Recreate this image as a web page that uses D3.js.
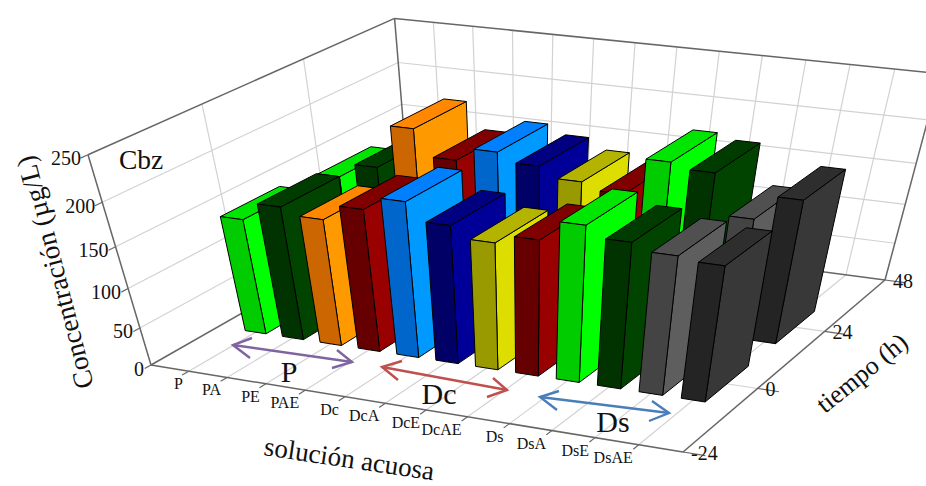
<!DOCTYPE html>
<html><head><meta charset="utf-8">
<script src="https://cdn.jsdelivr.net/npm/d3@7"></script>
<style>html,body{margin:0;padding:0;background:#fff;overflow:hidden}svg{display:block}text{font-family:"Liberation Serif",serif;fill:#111}</style>
</head><body><svg id="c" width="926" height="486"></svg>
<script>
// ---------- data ----------
const categories = ["P","PA","PE","PAE","Dc","DcA","DcE","DcAE","Ds","DsA","DsE","DsAE"];
const timeTicks = [-24,0,24,48];
const valueTicks = [0,50,100,150,200,250];
const times = [24,0];
const values24 = [138,155,205,175,190,180,168,160,202,196,150,178];
const values0  = [146,167,159,177,192,172,159,169,192,180,172,168];
const frontColors = ["#00cc00","#003300","#cc6600","#660000","#0066cc","#000066","#999900","#660000","#00cc00","#003300","#444444","#242424"];
const sideColors  = ["#00ff00","#004400","#ff9900","#990000","#0099ff","#000099","#dddd00","#990000","#00ff00","#004400","#5e5e5e","#383838"];
const topColors   = ["#00e600","#003c00","#ff8800","#800000","#0080ff","#000080","#b3b300","#800000","#00e600","#003c00","#505050","#2e2e2e"];
const groups = [
 {label:"P", color:"#8064a2"},
 {label:"Dc",color:"#c0504d"},
 {label:"Ds",color:"#4a7ebb"}];

// ---------- projection ----------
const A=[151,365],B=[683,452],C=[885,280],D=[411,217],G=[88,154],VP=[527,1620];
const uS=d3.scaleLinear().domain([0,13]).range([0,1]);
const vS=d3.scaleLinear().domain([-24,48]).range([0,1]);
const wS=d3.scaleLinear().domain([0,250]).range([0,1]);
const dx1=B[0]-C[0],dx2=D[0]-C[0],sx=A[0]-B[0]+C[0]-D[0];
const dy1=B[1]-C[1],dy2=D[1]-C[1],sy=A[1]-B[1]+C[1]-D[1];
const den=dx1*dy2-dx2*dy1;
const g=(sx*dy2-dx2*sy)/den,h=(dx1*sy-sx*dy1)/den;
const a=B[0]-A[0]+g*B[0],b=D[0]-A[0]+h*D[0],c0=A[0];
const d=B[1]-A[1]+g*B[1],e=D[1]-A[1]+h*D[1],f0=A[1];
const k=(G[0]-A[0])/(VP[0]-G[0]);
function proj(cat,t,val){
  const u=uS(cat),v=vS(t),w=wS(val);
  const W=g*u+h*v+1+w*k;
  return [(a*u+b*v+c0+w*k*VP[0])/W,(d*u+e*v+f0+w*k*VP[1])/W];
}
const svg=d3.select("#c");
const line=d3.line();
const GRID="#d2d2d2",AXIS="#666666";
const seg=(p,q,col,sw)=>svg.append("path").attr("d",line([p,q])).attr("fill","none").attr("stroke",col).attr("stroke-width",sw);
const catLines=d3.range(0,14);

// grid
catLines.slice(1,13).forEach(i=>{
  seg(proj(i,-24,0),proj(i,48,0),GRID,1.2);
  seg(proj(i,48,0),proj(i,48,250),GRID,1.2);
});
[0,24].forEach(t=>{
  seg(proj(0,t,0),proj(13,t,0),GRID,1.2);
  seg(proj(0,t,0),proj(0,t,250),GRID,1.2);
});
valueTicks.slice(1,5).forEach(z=>{
  seg(proj(0,-24,z),proj(0,48,z),GRID,1.2);
  seg(proj(0,48,z),proj(13,48,z),GRID,1.2);
});
// frame
[[[0,-24,0],[13,-24,0]],[[13,-24,0],[13,48,0]],[[13,48,0],[0,48,0]],[[0,48,0],[0,-24,0]],
 [[0,-24,0],[0,-24,250]],[[0,-24,250],[0,48,250]],[[0,48,250],[13,48,250]],[[0,48,0],[0,48,250]],[[13,48,0],[13,48,250]]]
 .forEach(([p,q])=>seg(proj(...p),proj(...q),AXIS,1.5));
// ticks
catLines.slice(1,13).forEach(i=>seg(proj(i,-24,0),proj(i,-25.6,0),AXIS,1.2));
timeTicks.forEach(t=>seg(proj(13,t,0),proj(13.5,t,0),AXIS,1.2));
valueTicks.forEach(z=>seg(proj(0,-24,z),proj(0,-25.5,z),AXIS,1.2));

// bars
const halfU=0.28,halfV=7.2;
function bar(i,t,val){
  const x=i+1,L=x-halfU,R=x+halfU,F=t-halfV,Bk=t+halfV;
  const pts=[[L,F,val],[R,F,val],[R,F,0],[L,F,0]];
  const side=[[R,F,val],[R,Bk,val],[R,Bk,0],[R,F,0]];
  const top=[[L,F,val],[L,Bk,val],[R,Bk,val],[R,F,val]];
  const poly=d3.line().curve(d3.curveLinearClosed);
  const draw=(q,col)=>svg.append("path").attr("d",poly(q.map(p=>proj(...p))))
     .attr("fill",col).attr("stroke","#000").attr("stroke-width",1).attr("stroke-linejoin","round");
  draw(side,sideColors[i]);draw(top,topColors[i]);draw(pts,frontColors[i]);
}
categories.forEach((_,i)=>bar(i,24,values24[i]));
categories.forEach((_,i)=>bar(i,0,values0[i]));

// labels
const txt=(x,y,s,size,anchor,rot)=>{
  const t=svg.append("text").attr("font-size",size).attr("text-anchor",anchor||"middle").text(s);
  t.attr("transform",`translate(${x},${y})`+(rot?` rotate(${rot})`:""));return t;};
categories.forEach((s,i)=>{const p=proj(i+1,-24,0);txt(p[0]-6,p[1]+18,s,16,"end");});
valueTicks.forEach(z=>{const p=proj(0,-24,z);txt(p[0]-7,p[1]+10.5,String(z),20,"end");});
timeTicks.forEach(t=>{const p=proj(13,t,0);txt(p[0]+8,p[1]+8,String(t),20,"start");});
txt(94,386,"Concentración (µg/L)",27.5,"start",-104.5);
txt(263,455,"solución acuosa",27,"start",8.5);
txt(825,414,"tiempo (h)",26,"start",-39);
txt(119,169,"Cbz",27.5,"start");

// group arrows
const arrowGeom=[[[233,345],[352,362],[[252,338],[250,358]],[[337,350],[332,368]],[289,382]],
 [[382,367],[507,390],[[402,361],[398,380]],[[493,378],[487,397]],[439,404]],
 [[540,397],[669,413],[[559,391],[557,410]],[[652,401],[649,421]],[613,432]]];
groups.forEach((gr,i)=>{
  const [s,t,h1,h2,lab]=arrowGeom[i];
  const stroke=(d)=>svg.append("path").attr("d",line(d)).attr("fill","none").attr("stroke",gr.color).attr("stroke-width",2.4);
  stroke([s,t]);stroke([h1[0],s,h1[1]]);stroke([h2[0],t,h2[1]]);
  txt(lab[0],lab[1],gr.label,30);
});
</script></body></html>
